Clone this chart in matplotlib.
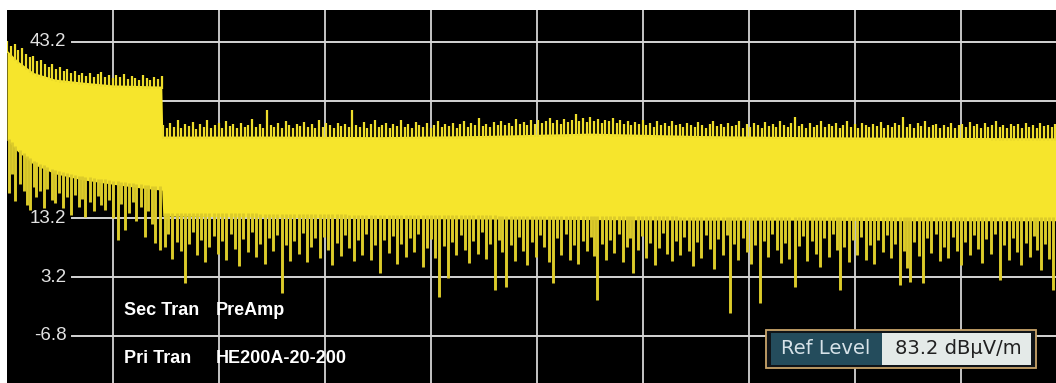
import numpy as np
import matplotlib
matplotlib.use("Agg")
import matplotlib.pyplot as plt
from matplotlib.patches import Rectangle
from matplotlib import font_manager

# screen of a spectrum analyser: 10 divisions across, 10 dB per grid line
level_ticks = [43.2, 13.2, 3.2, -6.8]
grid_levels = [43.2, 33.2, 23.2, 13.2, 3.2, -6.8]

# solid part of the trace (upper / lower edge), x in divisions
band_x = [0.00, 0.10, 0.25, 0.45, 0.70, 1.00, 1.25, 1.46, 1.47, 2.5, 3.5, 4.5, 5.5, 6.5, 7.5, 8.5, 9.9]
band_top = [41.8, 40.0, 38.0, 36.9, 36.4, 35.9, 35.8, 35.7, 27.2, 27.2, 27.1, 27.3, 27.7, 27.3, 27.1, 27.0, 26.9]
band_bot = [26.5, 24.6, 22.4, 20.8, 19.8, 19.0, 18.4, 18.0, 13.6, 13.4, 13.2, 13.1, 13.0, 12.9, 12.9, 12.8, 12.8]

# trace maxima, one per display bin (left part before the band switch, then the rest)
left_max = [
    43.4, 42.6, 42.9, 41.8, 42.1, 41.2, 40.6, 40.9, 39.9, 40.2,
    39.4, 39.0, 39.5, 38.6, 38.9, 38.2, 38.6, 37.9, 38.3, 37.6,
    38.0, 37.4, 37.9, 37.2, 37.7, 38.1, 37.3, 37.6, 37.0, 37.5,
    37.2, 37.8, 36.9, 37.4, 37.1, 36.8, 37.5, 37.0, 36.7, 37.3,
    36.9, 37.4,
]
right_max = [
    29.1, 28.6, 29.5, 28.8, 29.9, 28.5, 29.2, 28.9, 29.6, 28.4,
    29.3, 28.8, 30.0, 28.6, 29.1, 29.4, 28.5, 29.7, 28.9, 29.2,
    28.6, 29.5, 28.8, 29.0, 30.1, 28.7, 29.3, 28.5, 31.6, 29.0,
    28.8, 29.4, 28.6, 29.8, 29.1, 28.5, 29.3, 28.9, 29.6, 28.7,
    29.2, 28.6, 29.9, 28.8, 29.4, 29.0, 28.5, 29.5, 28.9, 29.2,
    28.7, 31.6, 29.1, 28.8, 29.6, 28.6, 29.3, 29.9, 28.7, 29.0,
    29.4, 28.6, 29.2, 28.9, 30.0, 28.7, 29.3, 28.5, 29.6, 29.0,
    28.8, 29.5, 28.6, 29.1, 29.8, 28.7, 29.3, 28.9, 29.5, 28.6,
    29.2, 29.7, 28.8, 29.4, 29.0, 30.2, 28.9, 29.3, 28.7, 29.6,
    29.1, 29.8, 29.0, 29.5, 28.9, 30.1, 29.2, 29.6, 29.0, 29.9,
    29.3, 30.0, 29.4, 29.8, 30.3, 29.5, 29.9, 29.2, 30.1, 29.6,
    30.0, 30.9, 29.7, 30.2, 29.6, 30.4, 29.8, 30.1, 29.5, 30.0,
    29.7, 30.2, 29.4, 29.9, 29.3, 29.8, 29.1, 29.6, 29.2, 29.9,
    29.0, 29.5, 28.8, 29.7, 29.1, 29.4, 28.9, 29.8, 29.0, 29.3,
    28.7, 29.5, 29.0, 28.8, 29.6, 29.1, 28.6, 29.3, 29.8, 28.9,
    29.2, 28.7, 29.5, 28.9, 29.1, 29.7, 28.6, 29.3, 28.8, 29.4,
    29.0, 28.6, 29.6, 28.9, 29.2, 28.7, 29.8, 29.0, 28.8, 29.4,
    30.4, 28.9, 29.2, 28.6, 29.5, 28.8, 29.1, 29.7, 28.7, 29.3,
    28.9, 29.5, 28.6, 29.0, 29.8, 28.8, 29.2, 28.5, 29.4, 29.0,
    28.7, 29.3, 28.9, 29.6, 28.6, 29.1, 28.8, 29.5, 29.0, 30.4,
    28.8, 29.2, 28.6, 29.4, 28.9, 29.7, 28.7, 29.0, 29.3, 28.6,
    29.1, 28.8, 29.5, 28.6, 29.0, 29.3, 28.7, 29.6, 28.9, 29.2,
    28.6, 29.4, 28.8, 29.1, 29.7, 28.7, 29.0, 28.5, 29.3, 28.9,
    29.2, 28.6, 29.5, 28.8, 29.0, 28.6, 29.4, 28.9, 29.1, 28.7,
    29.3,
]

# downward spikes (x, lowest level)
dips = [
    (0.02, 17.5), (0.05, 20.8), (0.08, 16.2), (0.12, 19.0), (0.16, 17.8), (0.19, 15.4), (0.22, 14.6), (0.25, 18.6),
    (0.27, 16.8), (0.31, 17.9), (0.35, 15.0), (0.38, 18.2), (0.42, 16.4), (0.45, 15.8), (0.49, 17.6), (0.53, 14.9),
    (0.57, 16.9), (0.60, 13.8), (0.64, 17.2), (0.68, 15.1), (0.71, 16.5), (0.74, 13.4), (0.78, 16.0), (0.82, 14.4),
    (0.86, 17.0), (0.89, 15.5), (0.92, 14.6), (0.96, 16.3), (1.00, 13.2), (1.05, 9.5), (1.08, 15.6), (1.11, 11.2),
    (1.15, 14.1), (1.19, 16.0), (1.22, 12.8), (1.26, 15.2), (1.30, 10.0), (1.33, 14.4), (1.37, 12.3), (1.40, 9.0),
    (1.44, 7.8),
    (1.49, 8.4), (1.52, 10.6), (1.56, 6.3), (1.60, 9.2), (1.64, 7.6), (1.68, 2.2), (1.72, 8.8), (1.75, 10.9),
    (1.79, 6.9), (1.83, 9.6), (1.87, 5.8), (1.91, 8.3), (1.95, 10.2), (1.99, 7.1), (2.03, 9.4), (2.07, 6.2),
    (2.11, 10.5), (2.15, 8.0), (2.19, 5.1), (2.23, 9.7), (2.27, 7.4), (2.31, 10.8), (2.35, 6.6), (2.39, 8.9),
    (2.43, 5.4), (2.47, 9.9), (2.51, 7.7), (2.55, 10.3), (2.59, 0.5), (2.63, 8.6), (2.67, 6.0), (2.71, 9.3),
    (2.75, 7.2), (2.79, 10.7), (2.83, 5.7), (2.87, 8.4), (2.91, 9.8), (2.95, 6.5), (2.99, 10.1), (3.03, 7.9),
    (3.07, 5.3), (3.11, 9.0), (3.15, 6.8), (3.19, 10.4), (3.23, 8.2), (3.27, 5.9), (3.31, 9.5), (3.35, 7.0),
    (3.39, 10.6), (3.43, 6.1), (3.47, 8.7), (3.52, 3.9), (3.56, 9.6), (3.60, 7.3), (3.64, 10.2), (3.68, 5.5),
    (3.72, 8.8), (3.76, 6.7), (3.80, 9.9), (3.84, 7.5), (3.88, 10.5), (3.92, 5.0), (3.96, 8.1), (4.00, 9.7),
    (4.04, 6.4), (4.08, -0.2), (4.12, 8.5), (4.16, 3.1), (4.20, 9.2), (4.24, 6.9), (4.28, 10.3), (4.32, 7.8),
    (4.36, 5.6), (4.40, 9.4), (4.44, 7.1), (4.48, 10.8), (4.52, 6.3), (4.56, 8.9), (4.60, 1.0), (4.64, 9.5),
    (4.67, 7.4), (4.71, 1.5), (4.75, 8.6), (4.79, 6.0), (4.83, 10.0), (4.87, 7.6), (4.91, 5.2), (4.95, 9.1),
    (4.99, 6.6), (5.03, 10.4), (5.07, 8.3), (5.11, 5.8), (5.15, 2.2), (5.19, 9.8), (5.23, 7.0), (5.27, 10.6),
    (5.31, 6.2), (5.35, 8.7), (5.39, 5.4), (5.43, 9.3), (5.47, 7.7), (5.51, 10.1), (5.54, 6.8), (5.57, -0.7),
    (5.61, 8.9), (5.65, 6.1), (5.69, 9.6), (5.73, 7.3), (5.77, 10.5), (5.81, 5.7), (5.85, 8.4), (5.88, 9.9),
    (5.91, 3.9), (5.95, 7.9), (5.99, 10.2), (6.03, 6.4), (6.07, 9.0), (6.11, 5.3), (6.15, 8.1), (6.19, 10.7),
    (6.23, 7.2), (6.27, 5.9), (6.31, 9.4), (6.35, 6.9), (6.39, 10.0), (6.43, 7.6), (6.47, 5.1), (6.51, 9.2),
    (6.55, 6.5), (6.59, 10.4), (6.63, 8.0), (6.67, 4.6), (6.71, 9.7), (6.75, 7.0), (6.79, 10.3), (6.82, -2.9),
    (6.86, 8.8), (6.90, 6.2), (6.94, 9.9), (6.98, 7.4), (7.02, 5.5), (7.06, 8.6), (7.10, -1.2), (7.14, 9.3),
    (7.18, 6.7), (7.22, 10.6), (7.26, 7.8), (7.30, 5.6), (7.34, 9.0), (7.38, 6.3), (7.43, 1.5), (7.47, 8.5),
    (7.51, 10.2), (7.55, 6.0), (7.59, 9.4), (7.63, 7.2), (7.67, 4.9), (7.71, 9.8), (7.75, 6.6), (7.79, 10.5),
    (7.83, 7.9), (7.86, 1.0), (7.90, 8.3), (7.94, 5.8), (7.98, 9.6), (8.02, 7.0), (8.06, 10.1), (8.10, 6.1),
    (8.14, 8.7), (8.18, 5.4), (8.22, 9.5), (8.26, 7.5), (8.30, 10.4), (8.34, 6.4), (8.38, 8.9), (8.42, 1.9),
    (8.46, 7.7), (8.49, 4.8), (8.52, 2.3), (8.56, 9.2), (8.60, 6.8), (8.64, 2.2), (8.68, 9.9), (8.72, 7.3),
    (8.76, 10.6), (8.80, 5.9), (8.84, 8.4), (8.88, 6.5), (8.92, 10.0), (8.96, 7.6), (9.00, 5.2), (9.04, 9.1),
    (9.08, 6.9), (9.12, 10.3), (9.16, 8.0), (9.20, 5.6), (9.24, 9.7), (9.28, 7.1), (9.32, 10.5), (9.37, 2.7),
    (9.41, 8.6), (9.45, 6.2), (9.49, 9.8), (9.53, 7.4), (9.57, 5.3), (9.61, 9.0), (9.65, 6.7), (9.69, 10.2),
    (9.72, 7.9), (9.75, 4.4), (9.79, 8.8), (9.83, 6.3), (9.87, 1.0),
]

info_rows = [("Sec Tran", "PreAmp"), ("Pri Tran", "HE200A-20-200")]
ref_label = "Ref Level"
ref_value = "83.2 dBµV/m"

names = {f.name for f in font_manager.fontManager.ttflist}
narrow = "Liberation Sans Narrow" if "Liberation Sans Narrow" in names else "Liberation Sans"

W, H = 1056, 383
fig = plt.figure(figsize=(W / 100, H / 100), dpi=100, facecolor="white")
ax = fig.add_axes([7 / W, 0, (W - 7) / W, (H - 10) / H])
ax.set_facecolor("black")
ax.set_xlim(0, 9.896)
ax.set_ylim(-14.8, 48.64)
ax.set_xticks([])
ax.set_yticks([])
for s in ax.spines.values():
    s.set_visible(False)

yellow = "#f6e52c"
grid_c = "#d4d4d4"

# grid
for k in range(1, 10):
    ax.axvline(k, color=grid_c, lw=1.3, zorder=1)
for lv in grid_levels:
    ax.plot([0.615, 9.896], [lv, lv], color=grid_c, lw=1.4, zorder=1)
for lv in level_ticks:
    ax.text(0.56, lv, str(lv), ha="right", va="center", color="#e2e2e2",
            fontsize=13.5, family=narrow, zorder=1.5)

# trace
ax.fill_between(band_x, band_bot, band_top, color=yellow, lw=0, zorder=2)
lx = np.linspace(0.0, 1.46, len(left_max))
rx = np.linspace(1.47, 9.89, len(right_max))
mx = np.concatenate([lx, rx])
my = np.array(left_max + right_max)
ax.vlines(mx, np.interp(mx, band_x, band_top) - 0.5, my, color="#eedd2b", lw=1.6, zorder=2)
dx, dy = np.array(dips).T
ax.vlines(dx, dy, np.interp(dx, band_x, band_bot) + 0.6, color="#dccb2a", lw=2.1, zorder=2)

# transducer info
for (name, val), lv in zip(info_rows, [-2.55, -10.7]):
    ax.text(1.10, lv, name, ha="left", va="center", color="white", fontsize=13,
            family=narrow, fontweight="bold", zorder=4)
    ax.text(1.97, lv, val, ha="left", va="center", color="white", fontsize=13,
            family=narrow, fontweight="bold", zorder=4)

# reference level box (figure pixels)
def box(x0, y0, x1, y1, **kw):
    fig.patches.append(Rectangle((x0 / W, 1 - y1 / H), (x1 - x0) / W, (y1 - y0) / H,
                                 transform=fig.transFigure, **kw))

box(766, 330, 1036, 368, facecolor="#101418", edgecolor="#c9a46a", lw=1.3, zorder=5)
box(771, 333, 882, 365, facecolor="#244c5c", edgecolor="none", zorder=6)
box(882, 333, 1031, 365, facecolor="#e4eae8", edgecolor="none", zorder=6)
fig.text(826 / W, 1 - 349 / H, ref_label, ha="center", va="center", color="#d6e2e8",
         fontsize=14, family="DejaVu Sans", zorder=7)
fig.text(958 / W, 1 - 349 / H, ref_value, ha="center", va="center", color="#202020",
         fontsize=14, family="DejaVu Sans", zorder=7)

fig.savefig("out.png", dpi=100, facecolor="white")
